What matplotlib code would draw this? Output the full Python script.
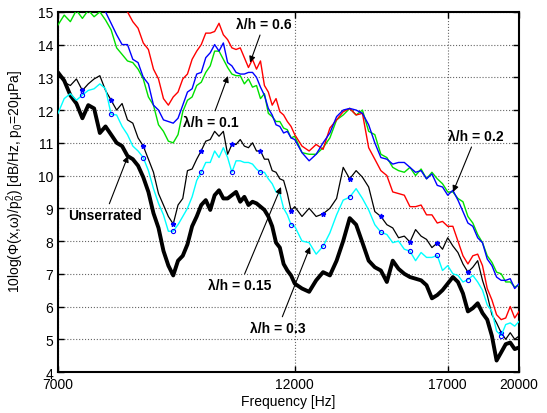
import matplotlib
matplotlib.use('Agg')
from matplotlib import pyplot as plt
from matplotlib.ticker import NullLocator, FixedLocator, FixedFormatter

plt.rcParams['font.family'] = ['Liberation Sans', 'DejaVu Sans']
plt.rcParams['mathtext.fontset'] = 'custom'
plt.rcParams['mathtext.rm'] = 'Liberation Sans'
plt.rcParams['mathtext.it'] = 'Liberation Sans:italic'
plt.rcParams['mathtext.default'] = 'regular'

# frequency axis [Hz]
freq = [7000, 7100, 7200, 7300, 7400, 7500, 7600, 7700, 7800, 7900,
        8000, 8100, 8200, 8300, 8400, 8500, 8600, 8700, 8800, 8900,
        9000, 9100, 9200, 9300, 9400, 9500, 9600, 9700, 9800, 9900,
        10000, 10100, 10200, 10300, 10400, 10500, 10600, 10700, 10800, 10900,
        11000, 11100, 11200, 11300, 11400, 11500, 11600, 11700, 11800, 11900,
        12000, 12200, 12400, 12600, 12800, 13000, 13200, 13400, 13600, 13800,
        14000, 14200, 14400, 14600, 14800, 15000, 15200, 15400, 15600, 15800,
        16000, 16200, 16400, 16600, 16800, 17000, 17200, 17400, 17600, 17800,
        18000, 18200, 18400, 18600, 18800, 19000, 19200, 19400, 19600, 19800,
        20000]

# PSD [dB/Hz] for each trailing edge
unserrated = [13.15, 12.9, 12.45, 12.2, 11.75, 12.15, 12.05, 11.3, 11.5, 11.25,
              11.0, 10.9, 10.6, 10.5, 10.3, 9.95, 9.5, 8.85, 8.4, 7.7,
              7.25, 6.95, 7.4, 7.55, 7.9, 8.45, 8.75, 9.1, 9.25, 8.95,
              9.4, 9.55, 9.3, 9.3, 9.4, 9.5, 9.2, 9.35, 9.1, 9.2,
              9.15, 9.05, 8.95, 8.75, 8.45, 7.95, 7.8, 7.3, 7.1, 6.95,
              6.7, 6.55, 6.45, 6.8, 7.05, 6.95, 7.4, 8.0, 8.7, 8.5,
              7.95, 7.4, 7.2, 7.1, 6.75, 7.4, 7.15, 7.0, 6.9, 6.85,
              6.8, 6.65, 6.25, 6.35, 6.5, 6.7, 6.9, 6.75, 6.4, 5.85,
              5.95, 6.1, 5.8, 5.6, 5.1, 4.35, 4.6, 4.85, 4.9, 4.7,
              4.75]

lh_010 = [14.6, 14.9, 14.7, 15.05, 14.8, 15.05, 14.85, 15.0, 14.75, 14.45,
          13.9, 13.7, 13.5, 13.45, 13.25, 12.95, 12.4, 12.15, 11.55, 11.35,
          11.05, 11.0, 11.25, 11.95, 12.3, 12.4, 12.75, 12.85, 13.15, 13.35,
          13.8, 13.8, 13.55, 13.3, 13.1, 13.05, 13.05, 12.8, 12.95, 12.7,
          12.75, 12.35, 12.5, 11.9, 11.8, 11.65, 11.65, 11.45, 11.4, 11.15,
          11.2, 10.7, 10.65, 10.65, 10.85, 11.15, 11.7, 11.85, 12.05, 11.85,
          12.0, 11.35, 11.25, 10.65, 10.55, 10.25, 10.15, 10.1, 10.25, 10.0,
          10.2, 9.9, 10.1, 9.9, 9.75, 9.5, 9.5, 9.3, 9.2, 8.75,
          8.55, 8.2, 7.95, 7.55, 7.35, 7.05, 7.0, 6.75, 6.75, 6.6,
          6.65]

lh_015 = [13.15, 12.85, 12.75, 12.95, 12.6, 12.8, 12.95, 13.05, 12.6, 12.3,
          12.0, 12.2, 11.7, 11.6, 11.15, 10.9, 10.5, 10.1, 9.45, 9.1,
          8.75, 8.52, 9.1, 9.3, 10.15, 10.2, 10.5, 10.76, 11.05, 11.1,
          11.35, 11.2, 11.35, 10.65, 10.95, 10.95, 11.1, 10.9, 10.85, 11.0,
          10.75, 10.75, 10.5, 10.5, 10.15, 10.1, 9.9, 9.85, 9.45, 8.93,
          9.05, 8.75, 9.0, 8.75, 8.83, 9.0, 9.3, 10.25, 9.9, 10.15,
          9.95, 9.65, 8.9, 8.75, 8.5, 8.4, 8.1, 8.15, 7.97, 8.35,
          8.15, 8.05, 7.8, 7.94, 7.75, 8.1, 7.85, 7.65, 7.3, 7.05,
          7.2, 7.4, 6.8, 6.35, 5.75, 5.5, 5.2, 5.0, 5.2, 5.0,
          5.1]

lh_020 = [15.6, 15.7, 15.5, 15.6, 15.4, 15.5, 15.3, 15.2, 15.0, 14.65,
          14.3, 14.0, 14.0, 13.55, 13.45, 13.0, 12.8, 12.15, 12.0, 11.7,
          11.65, 11.6, 11.75, 12.15, 12.55, 12.65, 13.1, 13.15, 13.6, 13.75,
          14.0, 13.8, 14.05, 13.45, 13.35, 13.15, 13.1, 13.1, 13.15, 13.15,
          13.0, 12.7, 12.45, 12.05, 11.85, 11.55, 11.5, 11.3, 11.35, 11.15,
          11.1, 10.7, 10.45, 10.65, 11.0, 11.3, 11.8, 12.0, 12.05, 12.0,
          11.9, 11.55, 11.0, 10.55, 10.5, 10.35, 10.4, 10.4, 10.25, 10.1,
          10.15, 9.9, 10.05, 9.7, 9.65, 9.4, 9.55, 9.25, 8.9, 8.55,
          8.45, 8.1, 7.95, 7.45, 7.25, 6.9, 6.8, 6.8, 6.85, 6.55,
          6.7]

lh_030 = [11.9, 12.35, 12.5, 12.3, 12.46, 12.6, 12.65, 12.8, 12.65, 11.87,
          11.85, 11.5, 11.25, 10.9, 10.75, 10.55, 10.15, 9.6, 9.15, 8.8,
          8.3, 8.3, 8.5, 8.75, 9.0, 9.35, 9.85, 10.1, 10.4, 10.4,
          10.75, 10.55, 10.85, 10.55, 10.1, 10.45, 10.45, 10.4, 10.4, 10.35,
          10.2, 10.1, 10.1, 9.9, 9.75, 9.5, 9.45, 9.0, 8.8, 8.5,
          8.45, 8.0, 7.95, 7.6, 7.84, 8.25, 8.8, 9.25, 9.34, 9.6,
          9.3, 8.95, 8.5, 8.27, 8.2, 7.95, 8.0, 7.75, 7.69, 7.4,
          7.65, 7.5, 7.5, 7.56, 7.1, 7.25, 7.0, 6.95, 6.75, 6.82,
          6.95, 6.75, 6.5, 6.05, 5.85, 5.25, 5.11, 5.45, 5.5, 5.4,
          5.55]

lh_060 = [16.2, 16.1, 16.3, 16.0, 16.1, 15.9, 16.0, 15.8, 15.9, 15.6,
          15.5, 15.3, 15.0, 14.7, 14.5, 14.05, 13.85, 13.25, 12.95, 12.35,
          12.15, 12.4, 12.55, 12.95, 13.1, 13.55, 13.8, 14.0, 14.35, 14.35,
          14.4, 14.65, 14.3, 14.15, 13.9, 13.85, 13.9, 13.6, 13.3, 13.55,
          13.25, 13.5, 12.75, 12.55, 12.15, 12.35, 11.95, 11.85, 11.65, 11.5,
          11.25, 10.9, 10.75, 10.95, 10.8, 11.45, 11.7, 11.95, 12.05, 11.85,
          11.9, 10.85, 10.5, 10.15, 10.0, 9.5, 9.45, 9.4, 9.05, 9.05,
          9.1, 8.8, 8.8, 8.55, 8.6, 8.45, 8.45, 8.0, 7.55, 7.3,
          7.55, 7.6, 7.25, 6.55, 6.2, 5.75, 5.6, 5.65, 6.0, 5.65,
          5.85]

# frequencies carrying the symbol markers
marker_freqs = [7400, 7900, 8500, 9100, 9700, 10400, 11100, 11900,
                12800, 13600, 14600, 15600, 16600, 17800, 19200]

xticks = [7000, 12000, 17000, 20000]
yticks = [4, 5, 6, 7, 8, 9, 10, 11, 12, 13, 14, 15]

mk = [freq.index(f) for f in marker_freqs]

fig = plt.figure(figsize=(5.47, 4.14), dpi=100)
ax = fig.add_axes([0.106, 0.099, 0.843, 0.870])

ax.plot(freq, unserrated, color='k', lw=2.8, zorder=3)
ax.plot(freq, lh_015, color='k', lw=0.9, marker='*', markevery=mk,
        ms=3.5, mfc='blue', mec='blue', zorder=4)
ax.plot(freq, lh_030, color='cyan', lw=1.0, marker='o', markevery=mk,
        ms=3, mfc='none', mec='blue', mew=0.8, zorder=5)
ax.plot(freq, lh_010, color='#00e000', lw=1.0, zorder=4)
ax.plot(freq, lh_060, color='red', lw=1.0, zorder=5)
ax.plot(freq, lh_020, color='blue', lw=1.0, zorder=6)

ax.set_xscale('log')
ax.set_xlim(7000, 20000)
ax.set_ylim(4, 15)
ax.xaxis.set_major_locator(FixedLocator(xticks))
ax.xaxis.set_major_formatter(FixedFormatter([str(t) for t in xticks]))
ax.xaxis.set_minor_locator(NullLocator())
ax.set_yticks(yticks)

ax.tick_params(direction='in', top=True, right=True, length=4,
               width=1.0, labelsize=10)
for sp in ax.spines.values():
    sp.set_linewidth(1.5)
ax.grid(True, linestyle=':', color='0.4', lw=0.8)

ax.set_xlabel('Frequency [Hz]', fontsize=10, labelpad=2)
ax.set_ylabel('10log(Φ(x,ω)/p$_0^2$) [dB/Hz, p$_0$=20μPa]', fontsize=10)
ax.yaxis.set_label_coords(-0.068, 0.53)

arrow = dict(arrowstyle='-|>', color='k', lw=0.8, mutation_scale=9,
             shrinkA=1, shrinkB=0)
notes = [('λ/h = 0.6', (11190, 14.63), (10840, 13.45)),
         ('λ/h = 0.1', (9918, 11.64), (10308, 13.04)),
         ('λ/h = 0.2', (18132, 11.21), (17208, 9.50)),
         ('Unserrated', (7791, 8.80), (8210, 10.60)),
         ('λ/h = 0.15', (10595, 6.66), (11631, 9.65)),
         ('λ/h = 0.3', (11550, 5.35), (12425, 7.82))]
for txt, xytext, xy in notes:
    ax.annotate(txt, xy=xy, xytext=xytext, ha='center', va='center',
                fontsize=10, fontweight='bold', arrowprops=arrow, zorder=10)

fig.savefig('out.png', dpi=100)
